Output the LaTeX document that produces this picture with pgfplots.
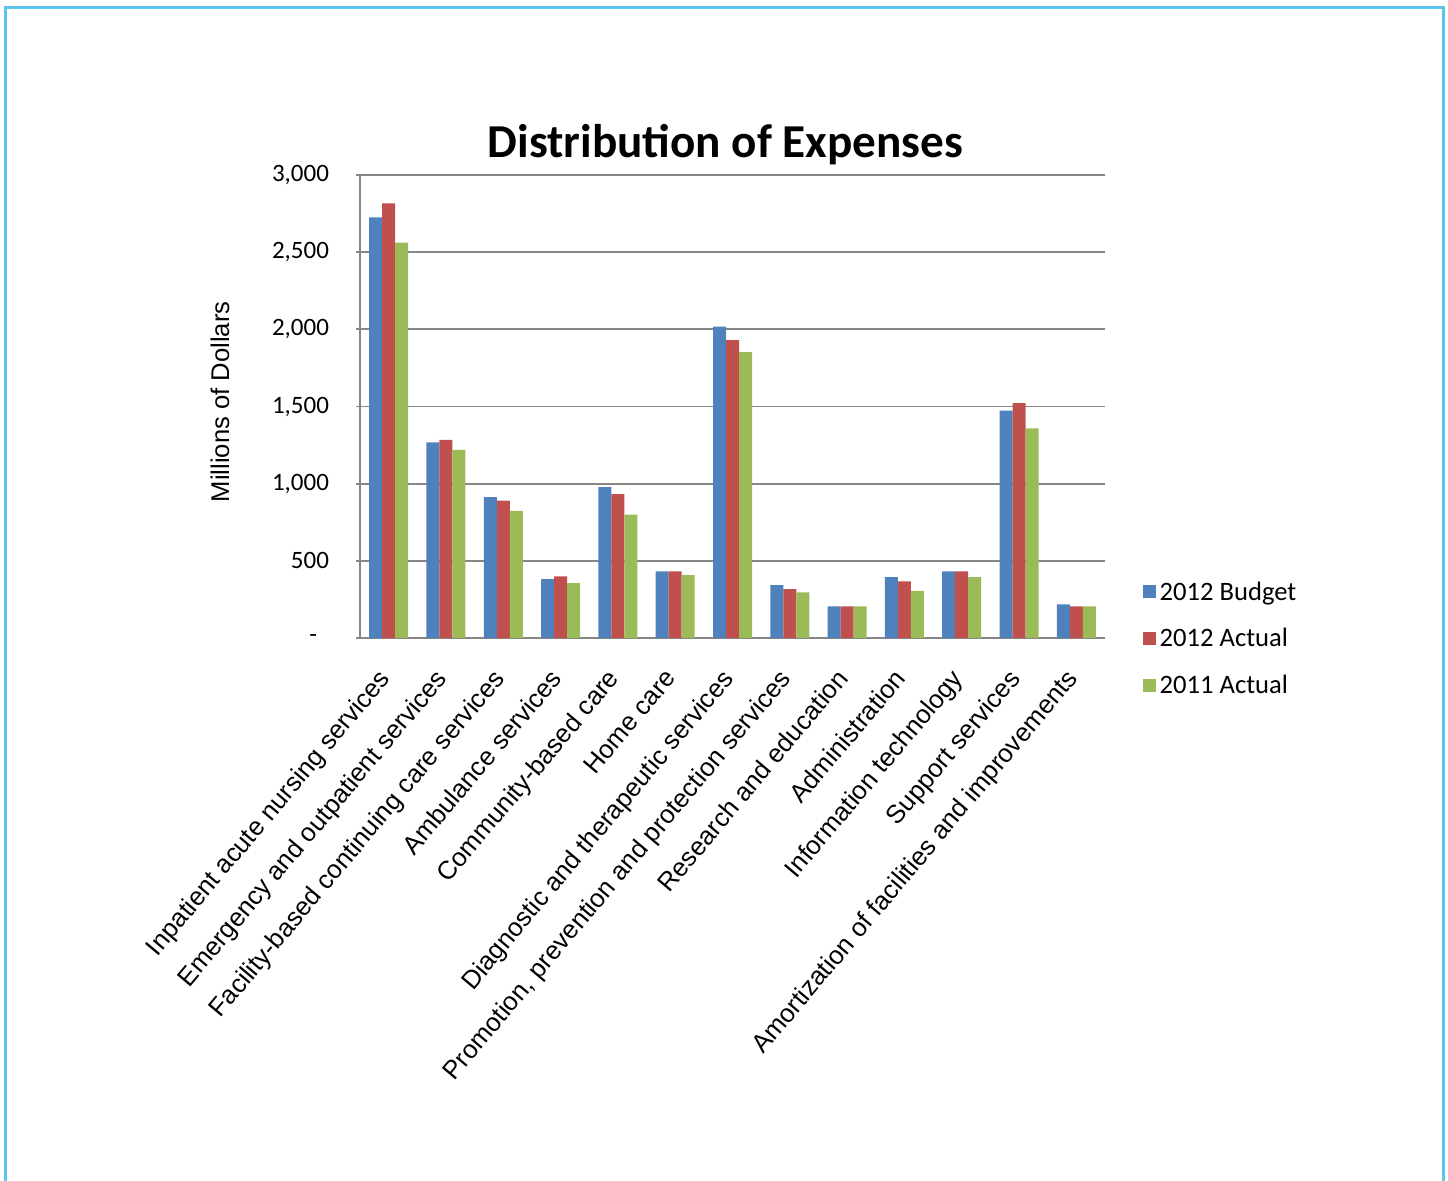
\documentclass[border=0pt]{standalone}
\usepackage{pgfplots}
\pgfplotsset{compat=1.18}
\usepackage{fontspec}
\setmainfont{Liberation Sans}
\newfontfamily\calibri{Carlito}
\definecolor{cblue}{RGB}{79,129,189}
\definecolor{cred}{RGB}{192,80,77}
\definecolor{cgreen}{RGB}{155,187,89}
\definecolor{framec}{RGB}{91,197,236}
\definecolor{gridc}{RGB}{134,134,134}
\begin{document}
\begin{tikzpicture}
\useasboundingbox (0,0) rectangle (724pt,-590pt);
\draw[framec, line width=1.5pt] (2.5pt,-600pt) -- (2.5pt,-3.5pt) -- (721.5pt,-3.5pt) -- (721.5pt,-600pt);
\node[anchor=base, font=\calibri\bfseries\fontsize{23.6}{27}\selectfont] at (362.75pt,-78.5pt) {Distribution of Expenses};
\begin{axis}[
  at={(180pt,-319pt)}, anchor=south west,
  scale only axis, width=372.5pt, height=231.5pt,
  ybar=0pt, bar width=6.5pt,
  xmin=-0.5, xmax=12.5, ymin=0, ymax=3000,
  axis lines*=left,
  axis line style={gridc, line width=0.9pt},
  ymajorgrids, grid style={gridc, line width=0.9pt},
  xtick={0,...,12},
  xticklabels={Inpatient acute nursing services,Emergency and outpatient services,Facility-based continuing care services,Ambulance services,Community-based care,Home care,Diagnostic and therapeutic services,{Promotion, prevention and protection services},Research and education,Administration,Information technology,Support services,Amortization of facilities and improvements},
  xtick style={draw=none},
  xticklabel style={rotate=50, anchor=north east, font=\fontsize{12.9}{14}\selectfont, yshift=0pt, xshift=-10pt},
  ytick={0,500,1000,1500,2000,2500,3000},
  yticklabels={{-\kern6pt},500,{1,000},{1,500},{2,000},{2,500},{3,000}},
  yticklabel style={font=\calibri\fontsize{12.5}{14}\selectfont, xshift=-10pt},
  ytick style={gridc, line width=0.9pt},
  tick align=outside, major tick length=2pt,
  ylabel={Millions of Dollars},
  ylabel style={at={(axis description cs:-0.188,0.51)}, anchor=center, font=\fontsize{12.8}{14}\selectfont},
  legend style={at={(axis description cs:1.042,0.14)}, anchor=north west, draw=none, fill=none, font=\calibri\fontsize{13.3}{15}\selectfont, row sep=8.7pt},
  legend cell align=left,
  legend image code/.code={\fill[#1] (0pt,-3pt) rectangle (6.5pt,3.5pt);},
]
\addplot[fill=cblue, draw=none] coordinates {(0,2726) (1,1267) (2,913) (3,382) (4,978) (5,432) (6,2018) (7,343) (8,205) (9,395) (10,432) (11,1474) (12,218)};
\addplot[fill=cred, draw=none] coordinates {(0,2817) (1,1284) (2,891) (3,399) (4,932) (5,432) (6,1930) (7,317) (8,205) (9,367) (10,432) (11,1522) (12,205)};
\addplot[fill=cgreen, draw=none] coordinates {(0,2562) (1,1219) (2,824) (3,356) (4,799) (5,408) (6,1852) (7,296) (8,205) (9,306) (10,395) (11,1358) (12,205)};
\legend{2012 Budget,2012 Actual,2011 Actual}
\end{axis}
\end{tikzpicture}
\end{document}
